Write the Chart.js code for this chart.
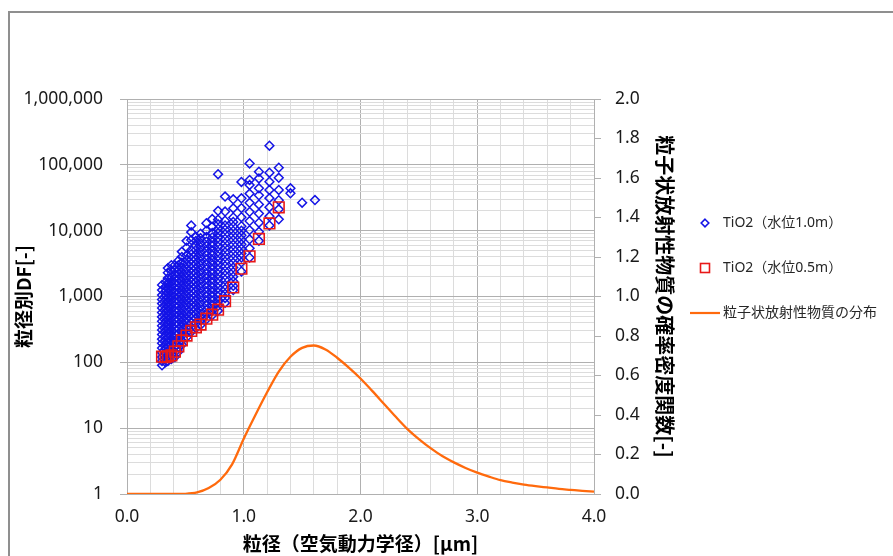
<!DOCTYPE html>
<html><head><meta charset="utf-8">
<script src="https://cdn.jsdelivr.net/npm/chart.js@4.4.1/dist/chart.umd.min.js"></script>
<style>
html,body{margin:0;padding:0;background:#fff;overflow:hidden;}
#frame{position:absolute;left:8px;top:11px;width:900px;height:560px;border-left:2px solid #8f8f8f;border-top:2px solid #8f8f8f;}
#c{position:absolute;left:0;top:0;}
</style></head><body>
<div id="frame"></div>
<canvas id="c" width="893" height="556"></canvas>
<script>
// ---- data ----
const xTickLabels = ['0.0', '1.0', '2.0', '3.0', '4.0'];
const yTickLabels = ['1', '10', '100', '1,000', '10,000', '100,000', '1,000,000'];
const y2TickLabels = ['0.0', '0.2', '0.4', '0.6', '0.8', '1.0', '1.2', '1.4', '1.6', '1.8', '2.0'];
const seriesNames = ['TiO2（水位1.0m）', 'TiO2（水位0.5m）', '粒子状放射性物質の分布'];

// TiO2 water level 1.0 m : particle size bins and DF values read per bin
const tio2Level10Size = [0.30, 0.33, 0.35, 0.38, 0.41, 0.44, 0.47, 0.51, 0.55, 0.59, 0.63, 0.68, 0.73, 0.78, 0.84, 0.91, 0.98, 1.05, 1.13, 1.22, 1.30, 1.40, 1.50, 1.61];
const tio2Level10DF = [
  [90, 105, 120, 140, 165, 195, 225, 265, 310, 360, 420, 490, 570, 670, 780, 900, 1050, 1250, 1500],
  [100, 115, 135, 160, 185, 215, 250, 295, 345, 400, 470, 550, 640, 750, 870, 1020, 1200, 1400, 1650],
  [105, 125, 145, 170, 200, 235, 275, 325, 380, 440, 520, 610, 710, 830, 970, 1150, 1350, 1600, 1900, 2300, 2700],
  [112, 132, 155, 185, 215, 255, 300, 350, 410, 480, 560, 660, 770, 900, 1050, 1230, 1450, 1700, 2000, 2500, 3000],
  [120, 142, 170, 200, 235, 275, 325, 380, 450, 530, 620, 730, 850, 1000, 1170, 1370, 1600, 1900, 2200, 2600, 3000],
  [145, 170, 200, 235, 275, 325, 380, 450, 520, 610, 720, 850, 990, 1150, 1350, 1600, 1850, 2200, 2550, 3000, 3500],
  [185, 215, 255, 300, 350, 410, 480, 560, 660, 780, 910, 1070, 1250, 1470, 1720, 2000, 2350, 2750, 3250, 4000, 4800],
  [240, 280, 330, 390, 450, 530, 620, 730, 850, 1000, 1170, 1370, 1600, 1880, 2200, 2600, 3050, 3600, 4200, 5500, 7000],
  [290, 340, 400, 470, 550, 650, 760, 890, 1040, 1220, 1430, 1680, 1970, 2300, 2700, 3150, 3700, 4350, 5100, 7200, 9500, 12000],
  [330, 390, 460, 540, 630, 740, 870, 1020, 1200, 1400, 1650, 1930, 2250, 2650, 3100, 3650, 4300, 5100, 5900, 7000, 8100],
  [370, 435, 510, 600, 700, 820, 970, 1130, 1330, 1560, 1830, 2150, 2500, 2950, 3450, 4050, 4750, 5600, 6500, 7700, 9000],
  [450, 530, 620, 730, 850, 1000, 1170, 1370, 1600, 1880, 2200, 2600, 3050, 3600, 4200, 4900, 5800, 6800, 8000, 10000, 13000],
  [520, 610, 720, 850, 990, 1160, 1360, 1600, 1870, 2200, 2570, 3000, 3550, 4200, 4900, 5800, 6700, 7900, 9200, 11500, 15000],
  [610, 720, 840, 1000, 1150, 1350, 1580, 1850, 2180, 2550, 3000, 3500, 4100, 4800, 5700, 6700, 7800, 9200, 10700, 12500, 14700, 20000, 72000],
  [800, 950, 1100, 1300, 1500, 1800, 2100, 2450, 2900, 3400, 4000, 4700, 5500, 6400, 7500, 8800, 10300, 12000, 14200, 19500, 33000],
  [1250, 1450, 1700, 2000, 2350, 2750, 3250, 3800, 4450, 5200, 6100, 7200, 8400, 9900, 11600, 13600, 15900, 21900, 30000],
  [2400, 3300, 3900, 4500, 5300, 6200, 7300, 8500, 10000, 11700, 16000, 22000, 31000, 55000],
  [3900, 5400, 7400, 10200, 14000, 19300, 26500, 36500, 49400, 59000, 105000],
  [7000, 9600, 13200, 18200, 25000, 34400, 44000, 62000, 78700],
  [12000, 16500, 22700, 31200, 41500, 55400, 76000, 195000],
  [14900, 21100, 29000, 41500, 63500, 90600],
  [37000, 44000],
  [26600],
  [29200]
];

// TiO2 water level 0.5 m
const tio2Level05Size = [0.30, 0.33, 0.35, 0.38, 0.41, 0.44, 0.47, 0.51, 0.55, 0.59, 0.63, 0.68, 0.73, 0.78, 0.84, 0.91, 0.98, 1.05, 1.13, 1.22, 1.30];
const tio2Level05DF = [122, 120, 123, 128, 145, 175, 215, 255, 300, 340, 375, 460, 530, 630, 850, 1370, 2640, 4080, 7480, 12900, 22600];

// particulate radioactive material distribution (probability density, right axis)
const distSize = [0.0, 0.1, 0.2, 0.3, 0.4, 0.5, 0.6, 0.7, 0.8, 0.9, 1.0, 1.1, 1.2, 1.3, 1.4, 1.5, 1.6, 1.7, 1.8, 1.9, 2.0, 2.1, 2.2, 2.3, 2.4, 2.5, 2.6, 2.7, 2.8, 2.9, 3.0, 3.1, 3.2, 3.3, 3.4, 3.5, 3.6, 3.7, 3.8, 3.9, 4.0];
const distPdf = [0, 0, 0, 0, 0, 0.001, 0.008, 0.03, 0.072, 0.15, 0.28, 0.40, 0.515, 0.62, 0.695, 0.74, 0.752, 0.732, 0.69, 0.64, 0.585, 0.522, 0.457, 0.392, 0.33, 0.278, 0.232, 0.192, 0.16, 0.132, 0.108, 0.088, 0.07, 0.058, 0.048, 0.04, 0.033, 0.026, 0.021, 0.016, 0.012];

// ---- styling ----
const BLUE = '#1414e6', RED = '#e81818', ORANGE = '#ff6a0d';
const GRID_MAJOR = '#b0b0b0', GRID_MINOR = '#dcdcdc';
const TICK_FONT = {family: "'Noto Sans', 'Noto Sans CJK JP', sans-serif", size: 17.5};
const TITLE_FAMILY = "'Noto Sans CJK JP', 'Noto Sans', sans-serif";
const LEGEND_FONT = {family: "'Noto Sans', 'Noto Sans CJK JP', sans-serif", size: 14};

// table building
const blueData = [];
tio2Level10Size.forEach((s, i) => tio2Level10DF[i].forEach(v => blueData.push({x: s, y: v})));
const redData = tio2Level05Size.map((s, i) => ({x: s, y: tio2Level05DF[i]}));
const lineData = distSize.map((s, i) => ({x: s, y: distPdf[i]}));

const isDecade = v => Math.abs(Math.log10(v) - Math.round(Math.log10(v))) < 1e-9;

// legend markers
function mk(w, h, draw) { const c = document.createElement('canvas'); c.width = w; c.height = h; draw(c.getContext('2d')); return c; }
const legDiamond = mk(12, 12, g => { g.strokeStyle = BLUE; g.lineWidth = 1.6; g.beginPath(); g.moveTo(6, 2.2); g.lineTo(9.8, 6); g.lineTo(6, 9.8); g.lineTo(2.2, 6); g.closePath(); g.stroke(); });
const legSquare = mk(12, 12, g => { g.strokeStyle = RED; g.lineWidth = 1.6; g.strokeRect(1.5, 1.5, 9, 9); });
const legLine = mk(30, 4, g => { g.strokeStyle = ORANGE; g.lineWidth = 2.2; g.beginPath(); g.moveTo(0, 2); g.lineTo(30, 2); g.stroke(); });

// layout numbers
const Y2_WIDTH = 69, LEG_PAD = 31, LEG_BOX = 22;
const mctx = document.createElement('canvas').getContext('2d');
mctx.font = "14px 'Noto Sans', 'Noto Sans CJK JP', sans-serif";
const tw = Math.max(...seriesNames.map(s => mctx.measureText(s).width));
const legendWidth = LEG_PAD + LEG_BOX + 7 + tw + 10;
const padRight = Math.max(0, 893 - 594 - Y2_WIDTH - legendWidth);

new Chart(document.getElementById('c'), {
  type: 'scatter',
  data: {
    datasets: [
      {label: seriesNames[0], data: blueData, yAxisID: 'y', order: 2,
       pointStyle: 'rectRot', pointRadius: 4.4, pointBorderWidth: 1.5, pointBorderColor: BLUE, pointBackgroundColor: 'rgba(0,0,0,0)'},
      {label: seriesNames[1], data: redData, yAxisID: 'y', order: 1,
       pointStyle: 'rect', pointRadius: 7.5, pointBorderWidth: 1.6, pointBorderColor: RED, pointBackgroundColor: 'rgba(0,0,0,0)'},
      {label: seriesNames[2], data: lineData, yAxisID: 'y2', order: 3, showLine: true,
       borderColor: ORANGE, borderWidth: 2.3, pointRadius: 0, cubicInterpolationMode: 'monotone', fill: false}
    ]
  },
  options: {
    responsive: false, animation: false, events: [],
    layout: {padding: {left: 0, top: 99, right: padRight, bottom: 0}},
    scales: {
      x: {
        type: 'linear', min: 0, max: 4,
        afterFit: s => { s.height = 62; },
        ticks: {stepSize: 0.2, autoSkip: false, maxRotation: 0, padding: 13, color: '#1a1a1a', font: TICK_FONT,
          callback: v => { const r = Math.round(v); return Math.abs(v - r) < 1e-6 ? xTickLabels[r] : ''; }},
        grid: {drawTicks: false, color: c => (c.tick && Math.abs(c.tick.value - Math.round(c.tick.value)) < 1e-6) ? GRID_MAJOR : GRID_MINOR},
        border: {display: true, color: GRID_MAJOR},
        title: {display: true, text: '粒径（空気動力学径）[μm]', color: '#000', font: {family: TITLE_FAMILY, size: 19, weight: 'bold'}, padding: {top: 0, bottom: 1}}
      },
      y: {
        type: 'logarithmic', position: 'left', min: 1, max: 1000000,
        afterFit: s => { s.width = 127; },
        afterBuildTicks: s => { const t = []; for (let e = 0; e <= 6; e++) for (let m = 1; m <= 9; m++) { const v = m * Math.pow(10, e); if (v <= 1000000) t.push({value: v}); } s.ticks = t; },
        ticks: {autoSkip: false, padding: 17, color: '#1a1a1a', font: TICK_FONT,
          callback: v => isDecade(v) ? yTickLabels[Math.round(Math.log10(v))] : ''},
        grid: {tickLength: 7, color: c => (c.tick && isDecade(c.tick.value)) ? GRID_MAJOR : GRID_MINOR,
          tickColor: c => (c.tick && isDecade(c.tick.value)) ? GRID_MAJOR : 'rgba(0,0,0,0)'},
        border: {display: true, color: GRID_MAJOR},
        title: {display: true, text: '粒径別DF[-]', color: '#000', font: {family: TITLE_FAMILY, size: 19, weight: 'bold'}, padding: {top: 12.6, bottom: 0}}
      },
      y2: {
        type: 'linear', position: 'right', min: 0, max: 2,
        afterFit: s => { s.width = Y2_WIDTH; },
        ticks: {stepSize: 0.2, autoSkip: false, padding: 14, color: '#1a1a1a', font: TICK_FONT,
          callback: v => y2TickLabels[Math.round(v * 5)]},
        grid: {drawOnChartArea: false, tickLength: 7, color: GRID_MAJOR, tickColor: GRID_MAJOR},
        border: {display: true, color: GRID_MAJOR},
        title: {display: true, text: '粒子状放射性物質の確率密度関数[-]', color: '#000', font: {family: TITLE_FAMILY, size: 20, weight: 'bold'}, padding: {top: -14, bottom: 0}}
      }
    },
    plugins: {
      tooltip: {enabled: false},
      legend: {
        display: true, position: 'right', align: 'start', fullSize: false, maxWidth: 400,
        title: {display: true, text: ' ', font: {size: 10}, padding: {top: 74, bottom: 0}},
        labels: {
          usePointStyle: true, pointStyleWidth: LEG_BOX, padding: LEG_PAD, color: '#262626', font: LEGEND_FONT,
          generateLabels: () => [
            {text: seriesNames[0], pointStyle: legDiamond, fillStyle: 'rgba(0,0,0,0)', strokeStyle: 'rgba(0,0,0,0)', lineWidth: 0, hidden: false, datasetIndex: 0, fontColor: '#262626'},
            {text: seriesNames[1], pointStyle: legSquare, fillStyle: 'rgba(0,0,0,0)', strokeStyle: 'rgba(0,0,0,0)', lineWidth: 0, hidden: false, datasetIndex: 1, fontColor: '#262626'},
            {text: seriesNames[2], pointStyle: legLine, fillStyle: 'rgba(0,0,0,0)', strokeStyle: 'rgba(0,0,0,0)', lineWidth: 0, hidden: false, datasetIndex: 2, fontColor: '#262626'}
          ]
        }
      }
    }
  }
});
</script>
</body></html>
